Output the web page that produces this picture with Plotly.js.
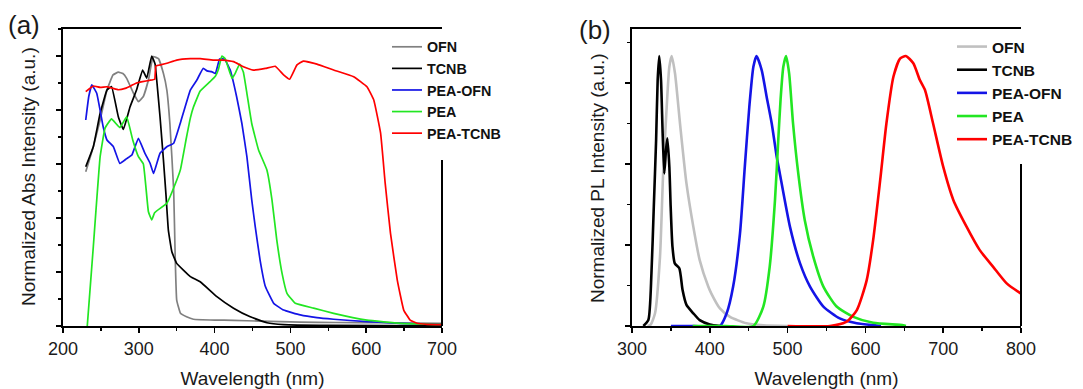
<!DOCTYPE html>
<html>
<head>
<meta charset="utf-8">
<script src="https://cdn.plot.ly/plotly-3.0.1.min.js"></script>
<style>html,body{margin:0;padding:0;background:#fff;}#chart{width:1083px;height:389px;}</style>
</head>
<body>
<div id="chart"></div>
<script>
// ---------- Panel (a): normalized absorption ----------
const absOFN_wl  = [230,240,249,258,266,273,279,284,293,299.5,306,312.7,319,326,332.5,337,341,346,348,350,355,363,372,400,425,460,513,560,620,700];
const absOFN_val = [0.571,0.664,0.763,0.874,0.93,0.94,0.935,0.917,0.862,0.831,0.85,0.911,0.998,0.99,0.935,0.874,0.75,0.504,0.257,0.096,0.047,0.034,0.025,0.022,0.021,0.018,0.014,0.013,0.012,0.01];

const absTCNB_wl  = [230,240,249,258,264,273,279.6,288.5,297,305,310.5,317,321.5,324,328,332.5,336,339,343.6,350,368,381,403,425,447,469,491,550,700];
const absTCNB_val = [0.59,0.664,0.788,0.874,0.887,0.775,0.728,0.812,0.874,0.948,0.918,1.0,0.97,0.9,0.775,0.615,0.48,0.355,0.275,0.232,0.183,0.164,0.109,0.066,0.034,0.012,0.005,0.002,0.001];

const absPEAOFN_wl  = [230,234,238,244.5,253,258,266.5,275,284,290.8,299.5,308,315,319.5,328,337,346,354.6,368,376.6,385,390,396,401,406.5,409.6,414,420.6,429,436,442.6,449,453.6,460,467,478,491,513,535,557,601,645,700];
const absPEAOFN_val = [0.763,0.85,0.893,0.862,0.738,0.689,0.664,0.602,0.62,0.633,0.695,0.64,0.602,0.565,0.64,0.664,0.677,0.75,0.874,0.911,0.954,0.945,0.942,0.935,0.988,0.99,0.985,0.948,0.85,0.75,0.627,0.467,0.368,0.244,0.146,0.084,0.059,0.041,0.031,0.025,0.016,0.01,0.006];

const absPEA_wl  = [232,240,249,255.5,264,275,284,292,299.5,306,312.7,317,321,337,350,355,363,368,372,381,394,401,405,409.6,414,423,427,433,438,442.6,449,458,469,475.7,482,489,495.5,506.5,530.6,557,601,645,700];
const absPEA_val = [0,0.294,0.627,0.733,0.767,0.735,0.775,0.689,0.627,0.60,0.423,0.393,0.42,0.455,0.54,0.58,0.70,0.77,0.81,0.87,0.905,0.925,0.95,1.0,0.99,0.917,0.935,0.97,0.94,0.862,0.75,0.652,0.578,0.467,0.319,0.195,0.121,0.084,0.066,0.047,0.022,0.01,0.006];

const absPEATCNB_wl  = [230,240,249,258,266,273,282,290,297,305,314,321,322.5,330,337,350,368,381,398,410,425,438,451,467,480,491,499,508.7,517,535,557,583.5,601,610,619,625,632,641,649.5,658,667,680,700];
const absPEATCNB_val = [0.868,0.889,0.884,0.886,0.88,0.875,0.88,0.89,0.90,0.905,0.91,0.914,0.963,0.968,0.973,0.985,0.99,0.99,0.985,0.985,0.979,0.96,0.948,0.954,0.962,0.93,0.914,0.967,0.981,0.97,0.948,0.923,0.886,0.837,0.714,0.53,0.344,0.17,0.059,0.022,0.01,0.006,0.005];

// ---------- Panel (b): normalized PL ----------
const plOFN_wl  = [320,324,329.6,336,340,344.6,348,351,355.3,361.7,370,378.8,387,398,402,413,426,447,469,500];
const plOFN_val = [0,0.005,0.047,0.257,0.565,0.812,0.96,1.0,0.935,0.75,0.528,0.368,0.244,0.146,0.12,0.065,0.034,0.01,0.003,0];

const plTCNB_wl  = [314.6,321,325,328,331,333,335,337.3,339.4,341.5,343.7,345.4,348,349.7,352,355,360.8,365,370,378.8,387,400,413];
const plTCNB_val = [0,0.022,0.195,0.44,0.69,0.911,1.0,0.911,0.714,0.565,0.652,0.695,0.59,0.442,0.294,0.232,0.214,0.133,0.078,0.047,0.022,0.006,0];

const plPEAOFN_wl  = [350,380,413,421.7,430,438.8,445,450.8,456,460,466.7,473,479.6,486,490,503,516,528.8,546,567,588.8,614.5,620];
const plPEAOFN_val = [0,0,0,0.047,0.146,0.343,0.59,0.812,0.96,1.0,0.948,0.85,0.75,0.627,0.565,0.368,0.232,0.146,0.072,0.028,0.01,0.002,0];

const plPEA_wl  = [378,420,456,468.8,477,483.8,488,491,494.5,498,502,507,513.7,522,533,546,563,584.5,610,648.7,652];
const plPEA_val = [0,0,0,0.072,0.22,0.467,0.689,0.84,0.96,1.0,0.935,0.75,0.565,0.393,0.257,0.146,0.072,0.034,0.012,0.003,0];

const plPEATCNB_wl  = [500,554.5,576,589,601.7,610,619,627,636,644.5,652,661.6,670,676.6,687,700,713,730,747,764,781.6,800];
const plPEATCNB_val = [0,0,0.016,0.059,0.17,0.319,0.54,0.75,0.923,0.99,1.0,0.973,0.911,0.874,0.75,0.59,0.467,0.368,0.281,0.22,0.158,0.12];

const seriesNames = ['OFN','TCNB','PEA-OFN','PEA','PEA-TCNB'];
const xTicks_a = [200,300,400,500,600,700];
const xTicks_b = [300,400,500,600,700,800];

const colA = ['#808080','#000000','#1414e6','#22e622','#ff0000'];
const colB = ['#c0c0c0','#000000','#1414e6','#22e622','#ff0000'];

const absData = [[absOFN_wl,absOFN_val],[absTCNB_wl,absTCNB_val],[absPEAOFN_wl,absPEAOFN_val],[absPEA_wl,absPEA_val],[absPEATCNB_wl,absPEATCNB_val]];
const plData  = [[plOFN_wl,plOFN_val],[plTCNB_wl,plTCNB_val],[plPEAOFN_wl,plPEAOFN_val],[plPEA_wl,plPEA_val],[plPEATCNB_wl,plPEATCNB_val]];

const traces = [];
absData.forEach((d,i)=>traces.push({x:d[0],y:d[1],type:'scatter',mode:'lines',name:seriesNames[i],
  xaxis:'x',yaxis:'y',legend:'legend',line:{color:colA[i],width:1.7,shape:'spline',smoothing:0.3}}));
plData.forEach((d,i)=>traces.push({x:d[0],y:d[1],type:'scatter',mode:'lines',name:seriesNames[i],
  xaxis:'x2',yaxis:'y2',legend:'legend2',line:{color:colB[i],width:2.6,shape:'spline',smoothing:0.6}}));

const W=1083,H=389;
const px=v=>v/W, py=v=>(H-v)/H;
const FONT='"Liberation Sans", Arial, sans-serif';
const axisCommon = {showgrid:false,zeroline:false,showline:true,linecolor:'#000',linewidth:2,
  ticks:'outside',ticklen:5,tickwidth:1.5,tickcolor:'#000'};

const layout = {
  width:W,height:H,margin:{l:0,r:0,t:0,b:0},paper_bgcolor:'#fff',plot_bgcolor:'#fff',
  font:{family:FONT,color:'#1a1a1a'},
  xaxis:Object.assign({},axisCommon,{domain:[px(63),px(442)],range:[200,700],tickvals:xTicks_a,
    mirror:true,anchor:'y',tickfont:{size:18,color:'#1a1a1a'},
    minor:{dtick:50,ticklen:3,tickwidth:1.5,tickcolor:'#000',ticks:'outside'},
    title:{text:'Wavelength (nm)',font:{size:19,color:'#1a1a1a'},standoff:15}}),
  yaxis:Object.assign({},axisCommon,{domain:[py(326),py(29)],range:[0,1.1],dtick:0.2,tick0:0,
    showticklabels:false,anchor:'x',minor:{dtick:0.1,ticklen:3,tickwidth:1.5,tickcolor:'#000',ticks:'outside'}}),
  xaxis2:Object.assign({},axisCommon,{domain:[px(632),px(1021)],range:[300,800],tickvals:xTicks_b,
    mirror:true,anchor:'y2',tickfont:{size:18,color:'#1a1a1a'},
    minor:{dtick:50,ticklen:3,tickwidth:1.5,tickcolor:'#000',ticks:'outside'},
    title:{text:'Wavelength (nm)',font:{size:19,color:'#1a1a1a'},standoff:15}}),
  yaxis2:Object.assign({},axisCommon,{domain:[py(326),py(29)],range:[0,1.1],dtick:0.3,tick0:0,
    showticklabels:false,anchor:'x2',minor:{dtick:0.15,ticklen:3,tickwidth:1.5,tickcolor:'#000',ticks:'outside'}}),
  legend:{x:px(387),xanchor:'left',y:py(31),yanchor:'top',bgcolor:'rgba(0,0,0,0)',borderwidth:0,
    font:{family:FONT,size:14.3,weight:'bold',color:'#111'}},
  legend2:{x:px(952),xanchor:'left',y:py(30),yanchor:'top',bgcolor:'rgba(0,0,0,0)',borderwidth:0,
    font:{family:FONT,size:15.5,weight:'bold',color:'#111'}},
  shapes:[
    {type:'line',xref:'x domain',yref:'y domain',x0:1,x1:1,y0:0,y1:(326-160)/297,line:{color:'#000',width:2}},
    {type:'line',xref:'x2 domain',yref:'y2 domain',x0:1,x1:1,y0:0,y1:(326-164)/297,line:{color:'#000',width:2}}
  ],
  annotations:[
    {text:'(a)',xref:'paper',yref:'paper',x:px(24),y:py(25),xanchor:'center',yanchor:'middle',showarrow:false,font:{size:26,color:'#1a1a1a'}},
    {text:'(b)',xref:'paper',yref:'paper',x:px(595),y:py(30),xanchor:'center',yanchor:'middle',showarrow:false,font:{size:26,color:'#1a1a1a'}},
    {text:'Normalized Abs Intensity (a.u.)',xref:'paper',yref:'paper',x:px(28),y:py(177),xanchor:'center',yanchor:'middle',textangle:-90,showarrow:false,font:{size:19,color:'#1a1a1a'}},
    {text:'Normalized PL Intensity (a.u.)',xref:'paper',yref:'paper',x:px(597),y:py(178),xanchor:'center',yanchor:'middle',textangle:-90,showarrow:false,font:{size:19,color:'#1a1a1a'}}
  ]
};
Plotly.newPlot('chart',traces,layout,{displayModeBar:false,staticPlot:true});
</script>
</body>
</html>
